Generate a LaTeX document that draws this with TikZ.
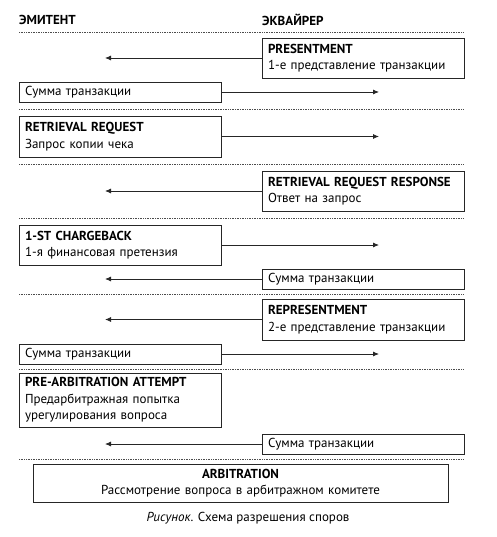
\documentclass[tikz,border=0pt]{standalone}
\usepackage{fontspec}
\setmainfont{PT Sans}
\usetikzlibrary{arrows.meta}
\begin{document}
\begin{tikzpicture}[x=1pt,y=-1pt,
  box/.style={draw=black!85,line width=0.8pt,anchor=north west,inner xsep=6pt,inner ysep=1pt,
     text width=190pt,align=left,font=\fontsize{13}{16.5}\selectfont,outer sep=0pt},
  sbox/.style={box,minimum height=20pt},
  tbox/.style={box,minimum height=40pt},
  sep/.style={densely dotted,draw=black!70,line width=0.7pt},
  arr/.style={-{Latex[length=6pt,width=5pt]},line width=0.8pt,draw=black!85},
  hdr/.style={anchor=west,font=\bfseries\fontsize{13}{15}\selectfont,inner sep=0pt}]
\useasboundingbox (0,0) rectangle (496,537);
\node[hdr] (em) at (19,20) {ЭМИТЕНТ};
\node[hdr] (ek) at (262,20) {ЭКВАЙРЕР};
\draw[sep] (19,32) -- (464,32);
% presentment
\node[tbox] (p1) at (262,38) {\textbf{PRESENTMENT}\\1-е представление транзакции};
\coordinate (p1e) at (105,58);
\draw[arr] (p1.west) -- (p1e);
\node[sbox] (s1) at (19,82) {Сумма транзакции};
\coordinate (s1e) at (379,92);
\draw[arr] (s1.east) -- (s1e);
\draw[sep] (19,109) -- (464,109);
% retrieval request
\node[tbox,minimum height=41pt] (rr) at (19,116) {\textbf{RETRIEVAL REQUEST}\\Запрос копии чека};
\coordinate (rre) at (379,136.5);
\draw[arr] (rr.east) -- (rre);
\draw[sep] (19,164) -- (464,164);
% rrr
\node[tbox] (rrr) at (262,171) {\textbf{RETRIEVAL REQUEST RESPONSE}\\Ответ на запрос};
\coordinate (rrre) at (105,191);
\draw[arr] (rrr.west) -- (rrre);
\draw[sep] (19,218) -- (464,218);
% chargeback
\node[tbox] (cb) at (19,225) {\textbf{1-ST CHARGEBACK}\\1-я финансовая претензия};
\coordinate (cbe) at (379,245);
\draw[arr] (cb.east) -- (cbe);
\node[sbox] (s2) at (262,269) {Сумма транзакции};
\coordinate (s2e) at (105,279);
\draw[arr] (s2.west) -- (s2e);
\draw[sep] (19,294) -- (464,294);
% representment
\node[tbox,minimum height=41pt] (rp) at (262,299) {\textbf{REPRESENTMENT}\\2-е представление транзакции};
\coordinate (rpe) at (105,319.5);
\draw[arr] (rp.west) -- (rpe);
\node[sbox] (s3) at (19,344) {Сумма транзакции};
\coordinate (s3e) at (379,354);
\draw[arr] (s3.east) -- (s3e);
\draw[sep] (19,369) -- (464,369);
% pre-arbitration
\node[tbox,minimum height=54pt] (pa) at (19,373) {\textbf{PRE-ARBITRATION ATTEMPT}\\Предарбитражная попытка\\урегулирования вопроса};
\node[sbox] (s4) at (262,434) {Сумма транзакции};
\coordinate (s4e) at (105,444);
\draw[arr] (s4.west) -- (s4e);
\draw[sep] (19,459) -- (464,459);
% arbitration
\node[box,text width=403pt,align=center,minimum height=38pt] (ar) at (33,464) {\textbf{ARBITRATION}\\Рассмотрение вопроса в арбитражном комитете};
\node[font=\fontsize{13}{15}\selectfont,inner sep=0pt] (cap) at (248,518) {\textit{Рисунок}. Схема разрешения споров};
\end{tikzpicture}
\end{document}
